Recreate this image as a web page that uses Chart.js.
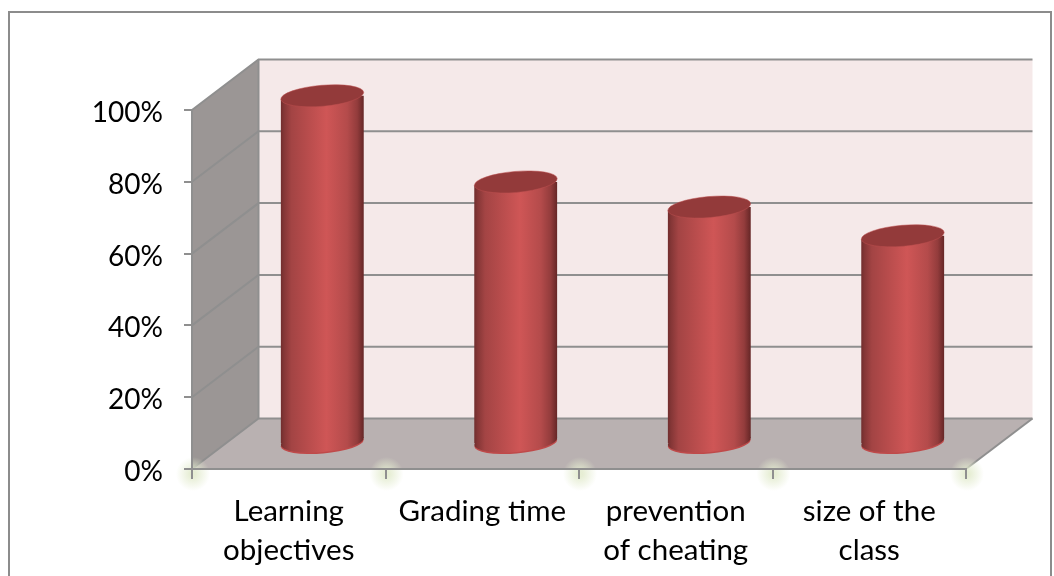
<!DOCTYPE html>
<html>
<head>
<meta charset="utf-8">
<script src="https://cdn.jsdelivr.net/npm/chart.js@4"></script>
<style>
  html, body { margin: 0; padding: 0; background: #fff; overflow: hidden; }
  #wrap { width: 1054px; height: 576px; }
</style>
</head>
<body>
<div id="wrap"><canvas id="chart"></canvas></div>
<script>
const categories = [["Learning", "objectives"], ["Grading time"], ["prevention", "of cheating"], ["size of the", "class"]];
const values = [97, 73, 66, 58];
const yMax = 100;
const yStep = 20;

const LINE = "#8f8f8f";
const DEPTH_X = 66.5;
const DEPTH_Y = -50.5;
const BAR_SHIFT_X = 33.5;
const BAR_SHIFT_Y = -25;
const CAP_RY = 10.5;
const CAP_TILT = -0.085;
const BAR_PCT = 0.43;
const Y_LABEL_DROP = 3;

function barGradient(chart, index) {
  const xScale = chart.scales.x;
  const cx = xScale.getPixelForValue(index);
  const half = (xScale.width / categories.length) * BAR_PCT / 2;
  // the controller resolves colours once before the first layout
  if (!isFinite(cx) || !isFinite(half)) return "#cf5656";
  const g = chart.ctx.createLinearGradient(cx - half, 0, cx + half, 0);
  g.addColorStop(0, "#6f2d2d");
  g.addColorStop(0.04, "#843636");
  g.addColorStop(0.13, "#a34444");
  g.addColorStop(0.3, "#b54b4b");
  g.addColorStop(0.55, "#cf5656");
  g.addColorStop(0.8, "#b44b4b");
  g.addColorStop(0.92, "#933c3c");
  g.addColorStop(1, "#642626");
  return g;
}

function cap(ctx, cx, cy, rx) {
  ctx.beginPath();
  ctx.ellipse(cx, cy, rx, CAP_RY, CAP_TILT, 0, Math.PI * 2);
}

function line(ctx, pts) {
  ctx.beginPath();
  pts.forEach((p, i) => i ? ctx.lineTo(p[0], p[1]) : ctx.moveTo(p[0], p[1]));
  ctx.stroke();
}

function poly(ctx, pts, fill) {
  ctx.beginPath();
  pts.forEach((p, i) => i ? ctx.lineTo(p[0], p[1]) : ctx.moveTo(p[0], p[1]));
  ctx.closePath();
  ctx.fillStyle = fill;
  ctx.fill();
}

// the room behind the bars: frame, walls, floor and the grid on them
const roomPlugin = {
  id: "room",
  beforeDraw(chart) {
    const ctx = chart.ctx;
    const { left, right, top, bottom } = chart.chartArea;
    const backL = left + DEPTH_X;
    const backR = right + DEPTH_X;
    const topB = top + DEPTH_Y;
    const botB = bottom + DEPTH_Y;

    ctx.save();
    ctx.fillStyle = "#fff";
    ctx.fillRect(0, 0, chart.width, chart.height);
    ctx.strokeStyle = "#8c8c8c";
    ctx.lineWidth = 2;
    ctx.strokeRect(9, 12, 1042, 580);

    poly(ctx, [[backL, topB], [backR, topB], [backR, botB], [backL, botB]], "#f5e9e9");
    poly(ctx, [[left, top], [backL, topB], [backL, botB], [left, bottom]], "#9b9695");
    poly(ctx, [[left, bottom], [backL, botB], [backR, botB], [right, bottom]], "#b9b1b1");

    ctx.strokeStyle = LINE;
    ctx.lineWidth = 2;
    chart.scales.y.ticks.forEach(t => {
      const y = chart.scales.y.getPixelForValue(t.value);
      line(ctx, [[left, y], [backL, y + DEPTH_Y], [backR, y + DEPTH_Y]]);
    });
    line(ctx, [[backL, topB], [backL, botB]]);
    line(ctx, [[right, bottom], [backR, botB]]);

    // soft green halo round the category ticks
    const step = chart.scales.x.width / categories.length;
    for (let i = 0; i <= categories.length; i++) {
      const x = left + i * step + 1;
      const g = ctx.createRadialGradient(x, bottom + 5, 3, x, bottom + 5, 17);
      g.addColorStop(0, "rgba(228,236,208,0.9)");
      g.addColorStop(1, "rgba(228,236,208,0)");
      ctx.fillStyle = g;
      ctx.fillRect(x - 18, bottom - 13, 36, 36);
    }
    ctx.restore();

    // Lato sits higher than the original face, nudge the value labels down
    if (!chart.$labelsDropped) {
      chart.scales.y.getLabelItems().forEach(item => {
        item.options.translation = [item.options.translation[0], item.options.translation[1] + Y_LABEL_DROP];
      });
      chart.$labelsDropped = true;
    }
  }
};

// bars are drawn by the library, shifted into the room and finished as cylinders
const cylinderPlugin = {
  id: "cylinder",
  beforeDatasetDraw(chart, args) {
    const ctx = chart.ctx;
    const bars = args.meta.data;
    ctx.save();
    ctx.translate(BAR_SHIFT_X, BAR_SHIFT_Y);
    const slope = Math.tan(CAP_TILT);
    bars.forEach((bar, i) => {
      const rx = bar.width / 2;
      cap(ctx, bar.x, bar.base, rx);
      ctx.fillStyle = "#bf4a4a";
      ctx.fill();
      ctx.save();
      ctx.translate(0, -1.5);
      cap(ctx, bar.x, bar.base, rx);
      ctx.fillStyle = barGradient(chart, i);
      ctx.fill();
      ctx.restore();
    });
    ctx.beginPath();
    bars.forEach(bar => {
      const rx = bar.width / 2;
      ctx.moveTo(bar.x - rx, bar.y - slope * rx);
      ctx.lineTo(bar.x + rx, bar.y + slope * rx);
      ctx.lineTo(bar.x + rx, bar.base + slope * rx - 1.5);
      ctx.lineTo(bar.x - rx, bar.base - slope * rx - 1.5);
      ctx.closePath();
    });
    ctx.clip();
  },
  afterDatasetDraw(chart, args) {
    const ctx = chart.ctx;
    ctx.restore();
    ctx.save();
    ctx.translate(BAR_SHIFT_X, BAR_SHIFT_Y);
    args.meta.data.forEach(bar => {
      cap(ctx, bar.x, bar.y, bar.width / 2);
      ctx.fillStyle = "#933a3a";
      ctx.fill();
      ctx.strokeStyle = "rgba(190,80,80,0.5)";
      ctx.lineWidth = 1;
      ctx.stroke();
    });
    ctx.restore();
  }
};

new Chart(document.getElementById("chart"), {
  type: "bar",
  data: {
    labels: categories,
    datasets: [{
      data: values,
      backgroundColor: c => c.type === "data" ? barGradient(c.chart, c.dataIndex) : "#cf5656",
      borderWidth: 0,
      barPercentage: BAR_PCT,
      categoryPercentage: 1
    }]
  },
  options: {
    responsive: true,
    maintainAspectRatio: false,
    animation: false,
    events: [],
    layout: { padding: { left: 0, right: 88, top: 110, bottom: 0 } },
    plugins: { legend: { display: false }, tooltip: { enabled: false } },
    scales: {
      x: {
        afterFit: s => { s.height = 107; },
        border: { color: LINE, width: 2 },
        grid: { drawOnChartArea: false, color: LINE, lineWidth: 2, tickLength: 10, offset: true },
        ticks: {
          color: "#000",
          padding: 13,
          maxRotation: 0,
          autoSkip: false,
          font: { family: "Lato", size: 29.5, lineHeight: 1.33 }
        }
      },
      y: {
        min: 0,
        max: yMax,
        afterFit: s => { s.width = 192; },
        border: { color: LINE, width: 2 },
        grid: { drawOnChartArea: false, color: LINE, lineWidth: 2, tickLength: 8 },
        ticks: {
          stepSize: yStep,
          color: "#000",
          padding: 21,
          callback: v => v + "%",
          font: { family: "Lato", size: 28 }
        }
      }
    }
  },
  plugins: [roomPlugin, cylinderPlugin]
});
</script>
</body>
</html>
